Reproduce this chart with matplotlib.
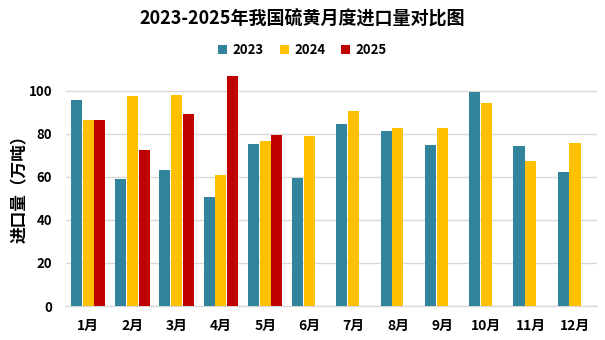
import numpy as np
import matplotlib
matplotlib.use("Agg")
import matplotlib.pyplot as plt
from matplotlib.patches import Patch

plt.rcParams['font.family'] = ['Noto Sans CJK SC', 'DejaVu Sans']

months = ["1月", "2月", "3月", "4月", "5月", "6月", "7月", "8月", "9月", "10月", "11月", "12月"]
v2023 = [95.8, 59.1, 63.3, 50.7, 75.3, 59.5, 84.7, 81.4, 74.9, 99.5, 74.4, 62.3]
v2024 = [86.5, 97.7, 98.1, 60.9, 76.7, 79.1, 90.7, 82.8, 82.8, 94.4, 67.4, 75.8]
v2025 = [86.5, 72.6, 89.3, 107.0, 79.5]

colors = ["#31849B", "#FFC000", "#C00000"]
labels = ["2023", "2024", "2025"]

fig = plt.figure(figsize=(6.05, 3.4), dpi=100)
ax = fig.add_axes([0.109, 0.1, 0.878, 0.759])

x = np.arange(len(months))
w = 0.25
step = 0.265
ax.bar(x - step, v2023, w, color=colors[0], zorder=3)
ax.bar(x, v2024, w, color=colors[1], zorder=3)
ax.bar(x[:len(v2025)] + step, v2025, w, color=colors[2], zorder=3)

ax.set_xlim(-0.5, len(months) - 0.5)
ax.set_ylim(0, 120)
ax.set_yticks([0, 20, 40, 60, 80, 100])
ax.set_xticks(x)
ax.set_xticklabels(months, fontsize=10, fontweight="bold")
for t in ax.get_yticklabels():
    t.set_fontsize(9.5)
    t.set_fontweight("bold")
ax.tick_params(axis="both", length=0)
ax.tick_params(axis="x", pad=9)
ax.tick_params(axis="y", pad=10)
ax.grid(axis="y", color="#D9D9D9", linewidth=1, zorder=0)
for s in ["top", "right", "left"]:
    ax.spines[s].set_visible(False)
ax.spines["bottom"].set_color("#D9D9D9")
ax.spines["bottom"].set_linewidth(1)

ax.set_ylabel("进口量（万吨）", fontsize=12, fontweight="bold")
ax.yaxis.set_label_coords(-0.07, 0.47)

fig.suptitle("2023-2025年我国硫黄月度进口量对比图", x=0.5, y=0.972,
             fontsize=13, fontweight="bold")

handles = [Patch(facecolor=c, label=l) for c, l in zip(colors, labels)]
fig.legend(handles=handles, loc="center", bbox_to_anchor=(0.5, 0.853), ncol=3,
           frameon=False, prop={"weight": "bold", "size": 9.5},
           handlelength=0.7, handleheight=0.7, handletextpad=0.4, columnspacing=1.2)

fig.savefig("out.png", dpi=100)
